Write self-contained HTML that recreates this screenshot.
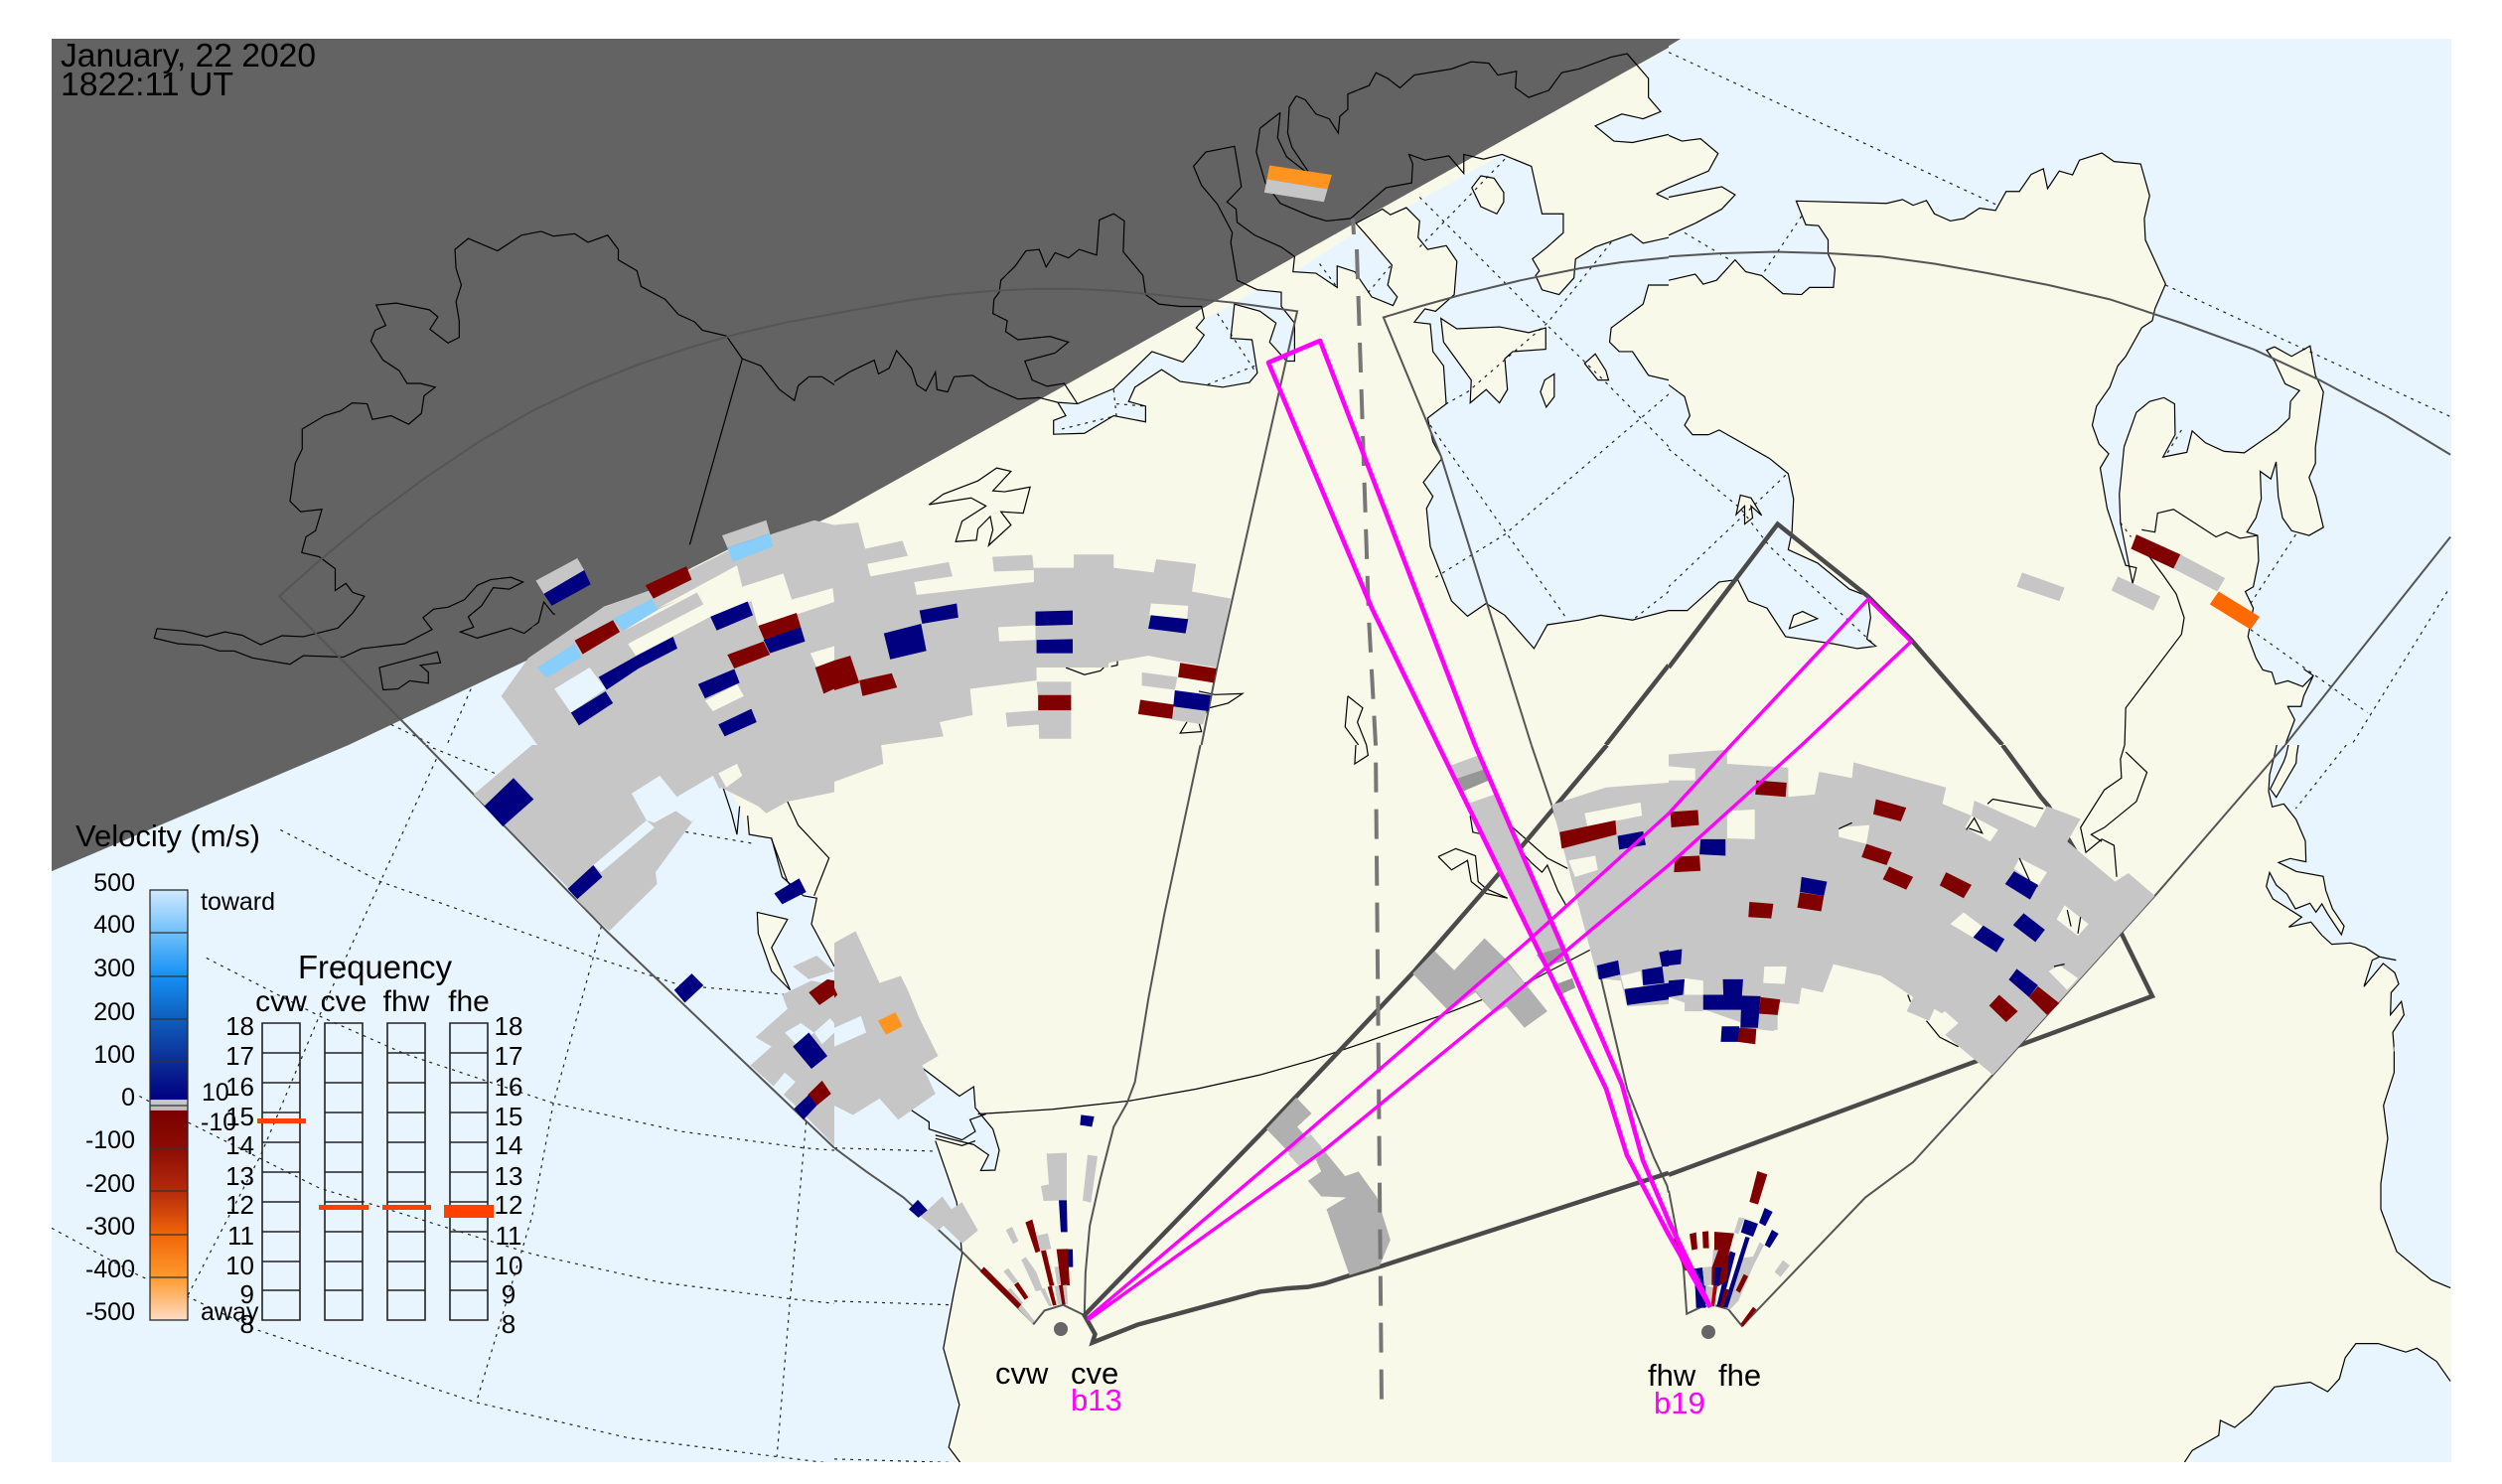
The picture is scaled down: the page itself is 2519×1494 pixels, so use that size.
<!DOCTYPE html>
<html><head><meta charset="utf-8"><style>
html,body{margin:0;padding:0;background:#fff}
svg{display:block}
svg *{vector-effect:non-scaling-stroke}
.l{fill:#f9f9ea}.o{fill:#e8f5ff}.N{fill:#636363}
.g{fill:#c6c6c6}.s{fill:#b0b0b0}.k{fill:#969696}.n{fill:#000080}.m{fill:#800000}.b{fill:#87cefa}.y{fill:#f9f9ea}.p{fill:#e8f5ff}
.c{fill:none;stroke:#000;stroke-width:1.2}
.d{fill:none;stroke:#222;stroke-width:1.2;stroke-dasharray:3 5}
.f{fill:none;stroke:#555;stroke-width:2}
.F{fill:none;stroke:#4a4a4a;stroke-width:4.5;stroke-linejoin:miter}
text{font-family:"Liberation Sans",sans-serif;fill:#000}
.t25{font-size:25px}.e{text-anchor:end}.q{text-anchor:middle}
.mg{fill:none;stroke:#f0f;stroke-width:3.4}
.mg2{fill:none;stroke:#f0f;stroke-width:4.6}
</style></head><body>
<svg width="2519" height="1494" viewBox="0 0 2519 1494" xmlns="http://www.w3.org/2000/svg">
<defs><linearGradient id="cb" x1="0" y1="0" x2="0" y2="1">
<stop offset="0" stop-color="#cfe9ff"/><stop offset=".1" stop-color="#6fc0fa"/><stop offset=".2" stop-color="#1590f5"/><stop offset=".3" stop-color="#0f5ebc"/><stop offset=".4" stop-color="#0c2c96"/><stop offset=".487" stop-color="#000080"/><stop offset=".488" stop-color="#ccc"/><stop offset=".512" stop-color="#bbb"/><stop offset=".513" stop-color="#7a0000"/><stop offset=".6" stop-color="#8c0c04"/><stop offset=".7" stop-color="#b52a0c"/><stop offset=".8" stop-color="#f06408"/><stop offset=".9" stop-color="#ff9a2c"/><stop offset="1" stop-color="#fddcc4"/>
</linearGradient></defs>

<!-- TILE 1 -->
<svg x="0" y="0" width="840" height="750" viewBox="0 0 1568 1568" preserveAspectRatio="none">
<rect class="o" width="1568" height="1568"/>
<polygon class="l" points="1040,1300 1150,1330 1180,1420 1300,1568 1568,1568 1568,900 1040,900"/>
<polygon class="N" points="0,0 1568,0 1568,1083 655,1568 0,1568"/>
<polyline class="d" points="885,1450 840,1568"/><polyline class="d" points="735,1525 815,1568"/>
<polyline class="c" points="295,1323 345,1328 388,1340 423,1330 455,1337 490,1357 530,1338 570,1340 635,1322 663,1290 685,1255 663,1247 650,1228 630,1243 630,1197 600,1172 567,1163 575,1130 593,1117 605,1072 565,1077 545,1055 555,975 568,945 568,903 610,875 640,865 662,848 690,850 700,883 735,875 768,893 792,870 797,833 818,815 790,807 765,807 750,780 720,758 697,718 705,695 725,685 707,642 745,638 807,652 823,667 808,693 842,722 863,710 863,675 857,635 867,600 857,565 855,525 880,502 935,528 980,495 1017,487 1040,497 1080,492 1105,510 1142,495 1162,525 1162,547 1197,570 1205,603 1250,630 1275,662 1305,677 1320,695 1365,707 1395,755 1430,770 1465,820 1493,843 1500,812 1520,793 1545,793 1568,810"/>
<polyline class="c" points="295,1323 290,1343 335,1355 380,1358 412,1370 440,1370 475,1385 545,1398 570,1380 645,1383 680,1365 760,1355 812,1325 795,1300 815,1282 842,1278 873,1262 897,1232 922,1220 960,1215 983,1225 957,1240 927,1237 905,1275 880,1298 890,1320 865,1330 897,1343 930,1332 960,1322 985,1333 1012,1310 1022,1267 1040,1292 1065,1302 1075,1320"/>
<polygon class="c" points="713,1405 822,1372 828,1395 790,1400 805,1415 805,1438 770,1433 748,1450 720,1452"/>
<polyline class="c" points="1395,755 1245,1350"/>
<polyline class="f" points="800,1568 525,1255 600,1180 700,1088 800,1005 900,930 1000,865 1100,812 1200,767 1300,730 1395,700 1480,678 1568,660"/>
<polygon class="g" points="942,1465 993,1385 1135,1277 1380,1150 1530,1095 1568,1105 1568,1568 1010,1568"/>
<polygon class="y" points="1237,1280 1385,1190 1395,1235 1472,1207 1488,1262 1565,1238 1568,1267 1425,1320 1412,1265 1335,1298 1195,1380 1180,1355 1322,1272 1315,1245"/>
<polygon class="y" points="1523,1375 1568,1360 1568,1400 1535,1405"/>
<polygon class="p" points="1042,1450 1108,1405 1138,1450 1073,1500"/>
<polygon class="y" points="1325,1475 1385,1440 1398,1465 1340,1497"/>
<polygon class="y" points="1130,1280 1225,1240 1385,1150 1400,1130 1357,1127 1200,1210"/>
<polygon class="N" points="1000,1320 1080,1270 1140,1225 1220,1190 1360,1110 1450,1080 1530,1040 1530,1095 1445,1120 1380,1150 1300,1195 1240,1235 1135,1277 1070,1325 993,1385"/>
<polygon class="g" points="1007,1222 1085,1175 1098,1200 1022,1250"/>
<polygon class="n" points="1022,1250 1098,1200 1110,1230 1037,1275"/>
<polygon class="g" points="1357,1127 1440,1095 1447,1123 1367,1153"/>
<polygon class="b" points="1367,1153 1447,1123 1453,1150 1377,1183"/>
<polygon class="m" points="1213,1232 1290,1192 1300,1220 1228,1260"/>
<polygon class="g" points="993,1385 1135,1277 1152,1303 1010,1405"/>
<polygon class="y" points="1237,1283 1310,1245 1315,1245 1322,1272 1195,1350 1172,1328"/>
<polygon class="g" points="1172,1328 1310,1247 1322,1272 1180,1355"/>
<polygon class="b" points="1010,1405 1080,1355 1093,1383 1027,1427"/>
<polygon class="m" points="1080,1348 1152,1305 1165,1330 1095,1377"/>
<polygon class="b" points="1152,1303 1225,1260 1237,1283 1170,1328"/>
<polygon class="n" points="1125,1425 1200,1378 1265,1340 1273,1365 1200,1407 1140,1452"/>
<polygon class="n" points="1073,1500 1138,1455 1152,1480 1088,1527"/>
<polygon class="n" points="1335,1298 1405,1266 1415,1295 1347,1327"/>
<polygon class="m" points="1425,1317 1497,1290 1505,1320 1437,1348"/>
<polygon class="n" points="1435,1347 1505,1320 1513,1350 1447,1375"/>
<polygon class="m" points="1367,1378 1435,1350 1447,1378 1380,1407"/>
<polygon class="n" points="1312,1440 1380,1408 1390,1437 1325,1470"/>
<polygon class="n" points="1350,1525 1412,1492 1422,1520 1362,1550"/>
<polygon class="m" points="1532,1405 1568,1390 1568,1450 1548,1460"/>
</svg>

<!-- TILE 2 -->
<svg x="840" y="0" width="840" height="750" viewBox="0 0 1568 1568" preserveAspectRatio="none">
<rect class="l" width="1568" height="1568"/>
<polygon class="o" points="415,845 457,850 525,818 597,740 655,762 695,700 680,680 750,640 795,610 840,615 840,645 865,680 865,760 850,760 818,720 830,680 800,655 752,640 745,712 785,715 795,785 780,805 730,815 650,803 615,778 565,815 553,845 585,855 585,888 525,875 470,912 412,914 412,885 435,875"/>
<polygon class="o" points="862,575 905,575 945,605 945,560 978,572 1010,625 1050,643 1058,625 1040,600 1048,558 985,485"/>
<polygon class="o" points="1075,437 1100,465 1097,500 1115,525 1150,517 1170,550 1165,620 1130,655 1110,650 1090,678 1120,682 1125,740 1145,770 1150,850 1115,880 1125,930 1142,965 1107,1015 1125,1045 1113,1070 1120,1150 1160,1265 1190,1297 1225,1270 1260,1295 1315,1365 1340,1315 1400,1305 1440,1295 1500,1305 1568,1285 1568,800 1530,790 1500,740 1475,740 1457,720 1460,690 1520,640 1530,600 1568,600 1568,500 1520,512 1498,493 1430,520 1393,545 1390,585 1362,620 1330,610 1318,580 1325,570 1312,545 1340,520 1370,490 1370,450 1330,450 1310,350 1255,325"/>
<polygon class="l" points="1140,670 1170,692 1250,688 1305,700 1337,690 1337,735 1275,740 1260,755 1265,820 1250,848 1225,820 1195,848 1197,800 1145,720"/>
<polygon class="l" points="1215,370 1240,375 1258,405 1258,425 1245,450 1215,435 1198,395"/>
<polygon class="l" points="1430,745 1450,780 1455,800 1435,800 1410,765"/>
<polygon class="l" points="1353,787 1353,835 1338,857 1327,825 1335,800"/>
<polygon class="o" points="1512,140 1530,165 1530,205 1553,235 1520,250 1480,240 1430,265 1465,297 1500,300 1568,283 1568,100"/>
<polygon class="o" points="1545,408 1568,395 1568,415"/>
<polygon class="N" points="0,0 1568,0 1568,100 0,1083"/>
<polyline class="d" points="912,555 945,605"/><polyline class="d" points="1045,560 1000,620"/><polyline class="d" points="790,770 700,810"/><polyline class="d" points="720,660 790,780"/><polyline class="d" points="525,820 530,875 420,905"/><polyline class="d" points="530,850 585,855"/>
<polyline class="d" points="1100,415 1340,685 1450,805 1568,940"/><polyline class="d" points="1260,335 1100,520"/><polyline class="d" points="1460,510 1340,680 1190,825 1150,850"/><polyline class="d" points="1568,830 1260,1125 1130,1215"/><polyline class="d" points="1120,895 1265,1125 1375,1300"/><polyline class="d" points="1568,1245 1500,1305"/>
<polyline class="c" points="0,803 30,782 75,758 83,787 103,775 117,738 145,775 155,810 172,823 190,783 193,820 213,825 225,793 260,790 290,813 345,840 385,837 420,847 435,875 412,885 412,914 470,912 525,875 585,888 585,855 553,845 565,815 615,778 650,803 730,815 780,805 795,785 785,715 745,712 752,640 800,655 830,680 818,720 850,760 865,760 865,680 840,645 840,615 795,610 757,590 745,510 748,490 720,430 690,390 675,350 698,320 752,308 765,393 738,425 755,440 757,468 790,495 840,520 865,540 862,572 905,575 945,605 945,560 978,572 1010,625 1050,643 1058,625 1040,600 1048,558 1000,495 980,470 1030,440 1045,452 1075,437 1100,465 1097,500 1115,525 1150,517 1170,550 1165,620 1130,655 1110,650 1090,678 1120,682 1125,740 1145,770 1150,850 1115,880 1125,930 1142,965 1107,1015 1125,1045 1113,1070 1120,1150 1160,1265 1190,1297 1225,1270 1260,1295 1315,1365 1340,1315 1400,1305 1440,1295 1500,1305 1568,1285"/>
<polyline class="c" points="420,847 457,850 525,818 597,740 655,762 680,730 695,705 680,690 695,670 690,645 650,645 610,640 585,620 580,580 543,530 545,465 525,450 498,463 493,537 460,525 440,543 415,532 398,562 385,525 360,528 340,560 313,590 310,615 300,630 298,660 325,675 322,698 345,715 405,708 440,720 415,743 358,760 372,800 400,813 432,807 457,850"/>
<polyline class="c" points="838,237 800,270 793,320 810,385 838,428 895,455 925,465 970,460 1037,395 1085,385 1087,345 1080,325 1110,337 1155,328 1183,365 1183,325 1220,335 1255,325 1310,350 1330,450 1370,450 1370,490 1340,520 1312,545 1325,570 1318,580 1330,610 1362,620 1390,585 1393,545 1430,520 1498,493 1520,512 1568,500"/>
<polyline class="c" points="838,237 833,290 850,330 890,365 905,365"/><polyline class="c" points="868,202 855,225 852,280 860,310 890,360"/>
<polyline class="c" points="868,202 885,210 905,240 930,250 947,280 950,245 965,230 965,198 1005,180 1018,153 1040,165 1063,185 1090,158 1160,145 1197,130 1230,133 1247,158 1282,150 1280,185 1305,205 1343,190 1367,153 1400,145 1460,120 1490,113 1530,165 1530,205 1553,235 1520,250 1480,240 1430,265 1465,297 1500,300 1568,283"/>
<polygon class="c" points="1140,670 1170,692 1250,688 1305,700 1337,690 1337,735 1275,740 1260,755 1265,820 1250,848 1225,820 1195,848 1197,800 1145,720"/>
<polygon class="c" points="1215,370 1240,375 1258,405 1258,425 1245,450 1215,435 1198,395"/>
<polygon class="c" points="1430,745 1450,780 1455,800 1435,800 1410,765"/>
<polygon class="c" points="1353,787 1353,835 1338,857 1327,825 1335,800"/>
<polyline class="c" points="1568,600 1530,600 1520,640 1460,690 1457,720 1475,740 1500,740 1530,790 1568,800"/>
<polyline class="c" points="1545,408 1568,395"/><polyline class="c" points="1545,408 1568,420"/>
<polygon class="c" points="305,985 332,992 298,1033 320,1035 368,1025 355,1080 313,1077 332,1105 290,1148 298,1115 293,1087 270,1113 267,1137 228,1140 240,1097 285,1065 257,1048 178,1062 205,1040 270,1012"/>
<polyline class="c" points="965,1465 993,1490 983,1520 1000,1568"/><polyline class="c" points="965,1465 960,1530 985,1568"/>
<polyline class="c" points="685,1455 715,1462 767,1460 740,1480 705,1490 685,1520 690,1540 650,1543 665,1515"/>
<polyline class="c" points="435,1405 470,1420 500,1412 515,1395"/><polyline class="c" points="532,1380 532,1400 520,1403"/><polyline class="c" points="595,1290 620,1268"/>
<polyline class="f" points="0,660 75,645 150,630 225,619 300,612 375,608 450,608 525,612 600,620 750,637 870,655 720,1400 690,1568"/>
<polyline class="f" points="1310,1568 1140,960 1032,668 1100,645 1180,620 1290,590 1400,565 1480,552 1568,542"/>
<polyline class="F" points="1450,1568 1568,1400"/>
<polygon class="g" points="0,1105 45,1100 58,1155 128,1138 138,1170 62,1187 68,1213 215,1183 222,1213 150,1225 155,1252 290,1235 375,1225 375,1195 450,1195 450,1167 525,1167 525,1195 600,1205 605,1177 680,1187 672,1245 745,1260 718,1405 646,1392 590,1380 515,1395 515,1405 380,1405 380,1432 255,1450 260,1505 198,1520 205,1550 90,1568 0,1568"/>
<polygon class="g" points="297,1172 372,1168 375,1200 300,1203"/>
<polygon class="y" points="308,1320 378,1316 378,1347 310,1350"/>
<polygon class="y" points="595,1270 665,1275 663,1303 592,1295"/>
<polygon class="g" points="578,1415 645,1425 640,1452 578,1443"/>
<polygon class="g" points="380,1435 445,1435 445,1465 383,1465"/>
<polygon class="g" points="383,1495 445,1495 445,1555 385,1555"/>
<polygon class="g" points="322,1500 385,1495 385,1525 325,1530"/>
<polygon class="g" points="640,1485 700,1495 693,1525 635,1515"/>
<polygon class="n" points="160,1285 230,1270 233,1300 165,1313"/>
<polygon class="n" points="93,1333 163,1313 173,1370 105,1388"/>
<polygon class="n" points="378,1287 448,1285 448,1315 378,1317"/>
<polygon class="n" points="380,1347 448,1345 448,1375 380,1375"/>
<polygon class="n" points="595,1295 665,1303 660,1333 590,1323"/>
<polygon class="m" points="650,1395 718,1407 713,1437 646,1425"/>
<polygon class="n" points="640,1453 707,1463 703,1497 637,1487"/>
<polygon class="m" points="575,1473 638,1483 635,1513 571,1503"/>
<polygon class="m" points="383,1463 445,1463 445,1495 383,1495"/>
<polygon class="m" points="0,1390 30,1380 47,1437 0,1453"/>
<polygon class="m" points="47,1432 108,1417 118,1447 53,1465"/>
<polygon fill="#ff9520" points="818,348 935,368 927,398 813,377"/>
<polygon class="g" points="813,377 927,398 920,425 808,405"/>
</svg>

<!-- TILE 3 -->
<svg x="1680" y="0" width="839" height="750" viewBox="0 0 1568 1568" preserveAspectRatio="none">
<rect class="o" width="1568" height="1568"/>
<polygon class="l" points="0,590 50,577 65,598 90,590 125,547 145,572 175,580 215,618 250,620 265,605 310,605 313,565 300,535 300,505 282,475 258,473 240,423 410,428 440,420 460,432 485,422 500,450 530,465 555,460 585,438 615,443 635,403 660,403 682,367 705,355 713,397 735,360 760,368 773,337 815,322 838,340 888,345 905,412 895,460 897,505 935,598 915,650 910,675 890,690 860,750 845,770 830,815 805,855 797,895 810,935 828,955 812,985 825,1070 860,1190 880,1195 873,1228 850,1100 848,1040 857,940 880,868 905,845 932,837 952,850 953,915 930,962 975,952 985,907 1010,932 1045,950 1083,953 1145,905 1168,880 1170,845 1187,822 1160,808 1140,760 1125,737 1140,730 1172,750 1207,728 1217,790 1232,825 1217,940 1217,975 1205,1005 1218,1045 1232,1110 1205,1127 1172,1117 1155,1090 1147,1045 1143,972 1133,1008 1113,992 1115,1050 1105,1090 1088,1120 1108,1127 1110,1180 1100,1235 1085,1245 1100,1280 1090,1340 1105,1385 1118,1410 1135,1415 1142,1440 1165,1433 1193,1445 1213,1422 1208,1420 1195,1465 1190,1487 1165,1487 1178,1515 1160,1568 0,1568"/>
<polygon class="o" points="0,810 30,835 40,875 30,895 45,915 75,915 95,905 190,965 225,997 235,1050 232,1120 225,1157 280,1185 340,1240 375,1255 380,1300 373,1345 390,1360 355,1365 310,1355 220,1340 185,1280 150,1265 130,1220 95,1225 35,1285 0,1285"/>
<polygon class="l" points="0,285 25,297 60,292 93,323 75,360 0,395"/>
<polygon class="l" points="0,415 100,393 125,410 100,440 50,470 0,495"/>
<polygon class="l" points="252,1287 280,1302 227,1323 235,1295"/>
<polygon class="l" points="135,1042 155,1048 175,1085 155,1065 158,1090 143,1103 143,1065 127,1083"/>
<polygon class="N" points="0,0 145,0 22,82 0,97"/>
<polyline class="d" points="0,110 615,430"/><polyline class="d" points="935,600 1471,877"/><polyline class="d" points="0,945 135,1070 190,1150 385,1355"/><polyline class="d" points="220,1000 0,1235"/><polyline class="d" points="250,455 175,580"/><polyline class="d" points="30,490 120,550"/><polyline class="d" points="1180,1125 1095,1270"/><polyline class="d" points="1095,1325 1315,1500"/><polyline class="d" points="1465,1245 1285,1568"/><polyline class="d" points="965,905 935,960"/><polyline class="d" points="850,1100 870,1130"/>
<polyline class="c" points="0,590 50,577 65,598 90,590 125,547 145,572 175,580 215,618 250,620 265,605 310,605 313,565 300,535 300,505 282,475 258,473 240,423 410,428 440,420 460,432 485,422 500,450 530,465 555,460 585,438 615,443 635,403 660,403 682,367 705,355 713,397 735,360 760,368 773,337 815,322 838,340 888,345 905,412 895,460 897,505 935,598 915,650 910,675 890,690 860,750 845,770 830,815 805,855 797,895 810,935 828,955 812,985 825,1070 860,1190 880,1195 873,1228 850,1100 848,1040 857,940 880,868 905,845 932,837 952,850 953,915 930,962 975,952 985,907 1010,932 1045,950 1083,953 1145,905 1168,880 1170,845 1187,822 1160,808 1140,760 1125,737 1140,730 1172,750 1207,728 1217,790 1232,825 1217,940 1217,975 1205,1005 1218,1045 1232,1110 1205,1127 1172,1117 1155,1090 1147,1045 1143,972 1133,1008 1113,992 1115,1050 1105,1090 1088,1120 1108,1127 1110,1180 1100,1235 1085,1245 1100,1280 1090,1340 1105,1385 1118,1410 1135,1415 1142,1440 1165,1433 1193,1445 1213,1422 1195,1408 1213,1422 1195,1465 1190,1487 1165,1487 1178,1515 1160,1568"/>
<polyline class="c" points="0,810 30,835 40,875 30,895 45,915 75,915 95,905 190,965 225,997 235,1050 232,1120 225,1157 280,1185 340,1240 375,1255 380,1300 373,1345 390,1360 355,1365 310,1355 220,1340 185,1280 150,1265 130,1220 95,1225 35,1285 0,1285"/>
<polyline class="c" points="0,285 25,297 60,292 93,323 75,360 0,395"/><polyline class="c" points="0,415 100,393 125,410 100,440 50,470 0,495"/>
<polygon class="c" points="252,1287 280,1302 227,1323 235,1295"/>
<polygon class="c" points="135,1042 155,1048 175,1085 155,1065 158,1090 143,1103 143,1065 127,1083"/>
<polyline class="c" points="890,1115 915,1120 920,1080 950,1072 1030,1130 1050,1120 1075,1133 1108,1127"/>
<polyline class="c" points="900,1165 930,1210 955,1250 970,1300 965,1335 860,1490 858,1568"/>
<polyline class="f" points="0,540 100,533 200,530 300,533 400,540 500,555 600,575 715,600 830,630 965,680 1100,735 1225,800 1350,875 1471,957"/>
<polyline class="f" points="1471,1130 1160,1568"/>
<polyline class="F" points="0,1405 205,1103 375,1255 455,1345 628,1568"/>
<polygon class="m" points="880,1125 963,1167 950,1197 870,1155"/>
<polygon class="g" points="963,1167 1047,1217 1032,1245 950,1197"/>
<polygon fill="#ff6a00" points="1035,1245 1112,1298 1095,1325 1018,1272"/>
<polygon class="g" points="665,1205 745,1237 735,1265 655,1235"/>
<polygon class="g" points="845,1213 925,1255 912,1285 833,1243"/>
</svg>

<!-- TILE 4 -->
<svg x="0" y="750" width="840" height="744" viewBox="0 0 1568 1568" preserveAspectRatio="none">
<rect class="o" width="1568" height="1568"/>
<polygon class="l" points="1370,0 1350,60 1390,130 1405,190 1450,200 1470,280 1530,320 1525,380 1568,470 1568,0"/>
<polygon class="l" points="1423,355 1480,370 1450,430 1485,520 1450,480 1425,400"/>
<polygon class="N" points="0,0 655,0 97,268 0,315"/>
<polyline class="d" points="527,180 715,290 1115,450 1280,510 1480,530"/>
<polyline class="d" points="388,452 600,575 760,655 1040,760 1280,820 1510,855 1568,860"/>
<polyline class="d" points="262,745 352,800 600,940 800,1010 1000,1080 1240,1140 1485,1175 1568,1185"/>
<polyline class="d" points="97,1025 260,1125 352,1170 480,1240 895,1395 1180,1470 1460,1510 1568,1525"/>
<polyline class="d" points="820,30 715,290 600,575 490,870 352,1170"/>
<polyline class="d" points="1130,385 1115,450 1040,760 1000,1000 895,1395"/>
<polyline class="d" points="1515,800 1485,1175 1460,1510"/>
<polyline class="d" points="800,0 930,60"/><polyline class="d" points="1215,170 1420,210"/>
<polyline class="c" points="1350,60 1375,145 1385,190 1390,130"/>
<polyline class="c" points="1405,150 1408,190 1450,198 1470,280 1510,320 1535,325 1525,380 1568,470"/>
<polyline class="c" points="1480,120 1500,170 1558,240 1530,320"/>
<polyline class="c" points="1450,200 1480,290 1500,320"/>
<polygon class="c" points="1423,355 1480,370 1450,430 1485,520 1450,480 1425,400"/>
<polyline class="f" points="800,0 1140,395 1568,855"/>
<polygon class="g" points="890,105 1000,0 1568,0 1568,100 1480,120 1440,145 1425,130 1355,90 1300,165 1232,270 1235,295 1145,395 1085,330 1065,300"/>
<polygon class="p" points="1187,103 1240,65 1272,110 1340,65 1355,100 1300,163 1270,140 1230,165 1215,160"/>
<polygon class="p" points="1115,255 1215,160 1230,175 1130,270"/>
<polygon class="y" points="1350,60 1385,40 1395,65 1365,90"/>
<polygon class="g" points="1490,470 1535,447 1568,480 1520,497"/>
<polygon class="g" points="1470,530 1525,500 1568,510 1568,850 1490,760 1410,680 1450,640 1420,620 1480,560"/>
<polygon class="p" points="1475,610 1505,590 1530,610 1500,640"/>
<polygon class="p" points="1530,610 1560,580 1568,590 1568,610 1545,635"/>
<polygon class="p" points="1453,725 1475,695 1495,715 1470,745"/>
<polygon class="n" points="910,130 965,70 1003,115 945,173"/>
<polygon class="n" points="1067,305 1115,255 1132,280 1085,327"/>
<polygon class="n" points="1455,315 1502,283 1515,312 1470,338"/>
<polygon class="n" points="1267,520 1300,485 1322,510 1287,547"/>
<polygon class="n" points="1490,640 1520,610 1555,660 1525,687"/>
<polygon class="m" points="1520,525 1555,497 1568,500 1568,530 1540,552"/>
<polygon class="m" points="1518,742 1545,712 1562,740 1535,765"/>
<polygon class="n" points="1492,772 1520,742 1535,765 1510,795"/>
</svg>

<!-- TILE 5 -->
<svg x="840" y="750" width="840" height="744" viewBox="0 0 1568 1568" preserveAspectRatio="none">
<rect class="l" width="1568" height="1568"/>
<polygon class="o" points="0,580 50,575 62,610 170,685 235,745 262,725 265,770 298,815 310,860 302,902 275,903 290,870 262,848 190,828 190,840 230,970 240,1080 225,1160 205,1280 235,1400 215,1490 237,1568 0,1568"/>
<polyline class="d" points="0,855 190,862"/><polyline class="d" points="0,1180 220,1188"/><polyline class="d" points="0,1515 235,1523"/>
<polyline class="c" points="165,685 235,745 262,725 265,770 298,815 310,860 302,902 275,903 290,870 262,848 190,828"/>
<polyline class="c" points="145,775 178,800 178,815 240,838 265,820 255,795 285,783"/>
<polyline class="c" points="190,835 240,850 265,840"/>
<polyline class="c" points="190,840 230,970 240,1080 225,1160 205,1280 235,1400 215,1490 237,1523"/>
<polyline class="c" points="50,575 62,610 75,630"/>
<polyline class="c" points="980,0 978,40 1003,22 1000,0"/>
<polyline class="c" points="1135,237 1168,220 1205,235 1210,290 1225,305 1265,325"/>
<polyline class="c" points="1135,237 1160,265 1190,245 1197,290 1225,315 1265,325"/>
<polyline class="c" points="1195,150 1200,185 1240,195 1265,165 1340,240 1378,262"/>
<polyline class="c" points="1290,225 1310,250 1330,270 1340,255 1360,310 1375,340"/>
<polyline class="c" points="270,783 410,773 555,755 680,730 800,700 900,668 1000,630 1075,600 1150,570 1230,535 1310,500 1420,435"/>
<polyline class="f" points="688,0 620,360 590,540 565,715 550,760 525,810 500,920 480,1020 472,1120 470,1210"/>
<polyline class="f" points="0,855 60,905 130,960 240,1075 375,1228 395,1200 430,1188 470,1210"/>
<polyline class="f" points="1310,0 1400,300 1490,730 1540,875 1565,935 1568,950"/>
<polyline class="F" points="1452,0 1240,285 1090,480 940,660 810,815 470,1210 490,1250 485,1268 570,1230 700,1190 800,1160 850,1153 890,1150 920,1143 970,1125 1030,1105 1568,908"/>
<polygon class="g" points="0,0 88,0 92,40 0,78"/>
<polygon class="g" points="0,420 40,395 85,505 125,490 138,520 160,580 195,660 165,680 190,740 120,795 85,750 35,785 0,765"/>
<polygon class="p" points="0,600 50,575 60,610 0,640"/>
<polygon fill="#ff9520" points="82,585 115,567 128,597 97,615"/>
<polygon class="m" points="0,515 6,530 0,537"/>
<polygon class="g" points="162,1000 203,958 220,985 240,970 270,1030 240,1058 205,1020 195,1030"/>
<polygon class="n" points="140,985 157,965 175,987 158,1003"/>
<polygon class="s" points="812,815 868,748 897,782 870,810 893,840 855,865"/>
<polygon class="g" points="853,868 895,825 918,857 875,895"/>
<polygon class="s" points="890,925 915,905 905,880 920,860 960,915 985,905 1020,960 1045,1050 1025,1105 968,1125 925,985 962,960 915,958"/>
<polygon class="s" points="1087,485 1128,437 1165,478 1222,410 1262,455 1340,565 1297,600 1263,555 1240,570 1205,525 1155,565"/>
<polygon class="g" points="1205,520 1262,460 1300,510 1240,570"/>
<polygon class="g" points="1190,125 1240,105 1375,430 1325,450"/>
<polygon class="k" points="1320,445 1365,430 1372,458 1335,470"/>
<polygon class="g" points="1155,45 1215,20 1225,50 1168,72"/>
<polygon class="k" points="1168,72 1225,50 1230,75 1178,100"/>
<polygon class="k" points="1350,510 1387,495 1393,515 1360,532"/>
<polygon class="g" points="1348,127 1450,90 1568,80 1568,550 1490,555 1478,500 1435,495"/>
<polygon class="y" points="1410,145 1515,122 1518,150 1465,162 1415,172"/>
<polygon class="y" points="1380,245 1430,235 1435,265 1392,280"/>
<polygon class="m" points="1363,185 1468,160 1470,190 1367,220"/>
<polygon class="n" points="1472,193 1520,183 1525,212 1475,222"/>
<polygon class="n" points="1433,468 1473,457 1477,487 1437,498"/>
<polygon class="y" points="1478,490 1515,480 1520,515 1485,520"/>
<polygon class="n" points="1518,477 1556,470 1560,505 1520,510"/>
<polygon class="n" points="1485,518 1568,505 1568,540 1490,552"/>
<polygon class="n" points="1550,440 1568,435 1568,470 1555,470"/>
</svg>

<!-- TILE 6 -->
<svg x="1680" y="750" width="839" height="744" viewBox="0 0 1568 1568" preserveAspectRatio="none">
<rect class="l" width="1568" height="1568"/>
<g transform="matrix(0.623 0 0 0.7024 1046.6 21.07)">
<polygon class="o" points="157,-31 150,0 135,60 132,110 143,157 178,148 215,195 243,260 245,323 197,313 162,325 215,352 297,367 305,410 325,465 360,517 352,543 310,480 293,450 275,475 257,448 213,465 187,420 155,393 135,355 125,397 145,435 232,490 193,520 260,505 293,545 323,572 380,568 425,582 467,610 445,620 420,700 478,630 513,658 525,692 502,718 500,785 533,745 541,785 507,838 512,900 900,900 900,-31"/>
<polygon class="l" points="192,-31 185,0 178,20 137,103 155,128 215,25 217,0 222,-31"/>
<polyline class="c" points="192,-31 185,0 178,20 137,103 155,128 215,25 217,0 222,-31"/>
<polyline class="c" points="157,-31 150,0 135,60 132,110 143,157 178,148 215,195 243,260 245,323 197,313 162,325 215,352 297,367 305,410 325,465 360,517 352,543 310,480 293,450 275,475 257,448 213,465 187,420 155,393 135,355 125,397 145,435 232,490 193,520 260,505 293,545 323,572 380,568 425,582 467,610 517,620 467,610 445,620 420,700 478,630 513,658 525,692 502,718 500,785 533,745 541,785 507,838 512,900"/>
</g>
<polygon class="o" points="1365,640 1365,695 1345,765 1353,835 1340,930 1340,985 1370,1075 1435,1135 1568,1200 1568,640"/>
<polygon class="o" points="970,1568 985,1497 1035,1465 1038,1433 1065,1448 1095,1420 1140,1362 1207,1352 1240,1372 1262,1345 1273,1300 1293,1270 1335,1270 1387,1288 1408,1280 1445,1308 1471,1350 1568,1400 1568,1568"/>
<polyline class="d" points="1275,0 1180,135"/>
<polyline class="c" points="1365,650 1365,695 1345,765 1353,835 1340,930 1340,985 1370,1075 1435,1135 1471,1152"/>
<polyline class="c" points="970,1523 985,1497 1035,1465 1038,1433 1065,1448 1095,1420 1140,1362 1207,1352 1240,1372 1262,1345 1273,1300 1293,1270 1335,1270 1387,1288 1408,1280 1445,1308 1471,1350"/>
<polyline class="c" points="858,0 850,30 852,70 820,95 775,175 785,228 815,200 838,213 843,280"/>
<polyline class="c" points="860,15 900,58 880,120 820,175 795,190 815,205"/>
<polyline class="f" points="1160,0 915,320 610,700 460,885 370,960 138,1233 112,1197 87,1189 62,1192 34,1207 28,1110 0,945"/>
<polyline class="F" points="628,0 700,110 715,130 760,215 852,400 910,533 0,912"/>
<polygon class="g" points="0,20 110,10 110,40 225,48 225,110 275,105 283,57 345,70 348,37 522,90 515,125 570,150 575,118 690,175 712,130 775,157 750,205 840,290 865,272 915,320 610,700 520,615 545,590 500,560 490,585 448,565 460,535 400,490 310,465 290,525 250,515 245,550 205,545 205,605 165,600 0,535"/>
<polygon class="y" points="0,45 50,50 50,75 0,75"/>
<polygon class="y" points="110,140 162,137 162,200 110,198"/>
<polygon class="y" points="320,175 378,170 372,210 320,195"/>
<polygon class="y" points="660,240 712,270 695,300 650,262"/>
<polygon class="y" points="530,380 555,355 590,385 575,410"/>
<polygon class="y" points="570,150 620,180 605,205 558,175"/>
<polygon class="y" points="730,370 745,340 790,380 770,405"/>
<polygon class="y" points="715,480 735,467 770,495 750,520"/>
<polygon class="y" points="180,470 222,470 218,507 178,505"/>
<polygon class="y" points="30,495 65,500 65,530 30,530"/>
<polygon class="y" points="490,585 520,565 545,590 520,615"/>
<polyline class="c" points="560,180 575,155 590,187 565,177"/><polyline class="c" points="600,125 610,115 705,135"/><polyline class="c" points="660,240 680,290 695,300"/><polyline class="c" points="750,350 757,385"/><polyline class="c" points="770,400 775,365"/><polyline class="c" points="320,178 345,165"/><polyline class="c" points="725,470 745,465"/><polyline class="c" points="450,530 455,545"/><polyline class="c" points="485,585 510,620 545,640"/>
<polygon class="g" points="30,530 65,530 65,565 30,565"/>
<polygon class="g" points="168,570 205,573 198,607 165,603"/>
<polygon class="m" points="165,75 222,80 220,110 163,105"/>
<polygon class="m" points="390,115 447,133 437,162 385,147"/>
<polygon class="m" points="3,142 55,138 57,170 5,175"/>
<polygon class="n" points="60,200 107,200 107,235 58,232"/>
<polygon class="m" points="12,237 58,235 60,267 10,270"/>
<polygon class="m" points="372,210 420,228 410,255 363,238"/>
<polygon class="m" points="415,258 460,280 447,307 403,285"/>
<polygon class="m" points="522,270 570,297 555,325 510,298"/>
<polygon class="n" points="650,268 695,297 680,328 633,295"/>
<polygon class="n" points="250,280 298,290 292,320 247,312"/>
<polygon class="m" points="247,313 292,320 287,353 242,345"/>
<polygon class="m" points="152,333 197,337 193,368 150,365"/>
<polygon class="n" points="668,357 708,392 690,418 648,382"/>
<polygon class="n" points="592,383 632,412 617,440 573,408"/>
<polygon class="n" points="0,437 25,433 23,465 0,468"/>
<polygon class="n" points="0,500 30,497 27,530 0,535"/>
<polygon class="n" points="102,497 140,497 138,530 103,530"/>
<polygon class="n" points="65,530 138,530 138,562 65,562"/>
<polygon class="n" points="137,532 173,533 168,600 135,600"/>
<polygon class="m" points="173,535 210,540 205,573 170,570"/>
<polygon class="n" points="100,597 133,597 133,630 98,630"/>
<polygon class="m" points="133,600 165,602 163,635 130,630"/>
<polygon class="n" points="655,475 695,510 678,535 640,498"/>
<polygon class="m" points="695,512 735,548 712,573 678,535"/>
<polygon class="m" points="622,530 657,565 635,588 603,553"/>
</svg>

<!-- cvw/cve near-range fan -->
<g transform="translate(960 1120) scale(.33333)">
<polygon class="n" points="385,7 425,12 418,43 382,38"/>
<polygon class="g" points="281,124 342,122 342,265 272,267 264,222 288,217"/>
<polygon class="g" points="405,128 435,132 415,272 390,266"/>
<polygon class="n" points="318,265 342,265 344,361 324,361"/>
<polygon class="g" points="158,355 177,345 196,388 180,397"/>
<polygon class="m" points="217,332 238,323 262,418 248,424"/>
<polygon class="g" points="250,372 285,365 295,412 262,418"/>
<polygon class="m" points="264,418 279,416 304,522 290,525"/>
<polygon class="g" points="305,466 323,465 329,520 313,520"/>
<polygon class="m" points="311,413 345,412 351,522 325,522"/>
<polygon class="n" points="345,413 360,413 361,467 347,467"/>
<polygon class="g" points="205,445 218,436 250,482 270,535 248,540 235,510"/>
<polygon class="g" points="151,480 165,470 195,510 182,518"/>
<polygon class="m" points="183,520 195,512 226,558 215,566"/>
<polygon class="g" points="160,540 172,530 210,575 200,585"/>
<polygon class="m" points="80,480 92,466 205,580 195,592"/>
<polygon class="g" points="195,592 205,580 245,630 238,638"/>
<polygon class="g" points="262,535 275,530 298,585 288,585"/>
<polygon class="m" points="284,527 297,524 311,582 300,583"/>
<polygon class="g" points="305,525 318,522 328,580 315,580"/>
<polygon class="m" points="318,522 330,520 338,580 328,580"/>
<polygon class="g" points="330,522 342,520 345,580 338,580"/>
</g>

<!-- fhw/fhe near-range fan -->
<g transform="translate(1640 1150) scale(.33333)">
<polygon class="g" points="110,245 125,242 145,290 130,292"/>
<polygon class="m" points="125,290 148,290 188,382 170,388"/>
<polygon class="m" points="388,87 418,97 390,188 364,180"/>
<polygon class="n" points="410,198 434,210 412,253 393,243"/>
<polygon class="n" points="432,264 452,276 425,319 410,310"/>
<polygon class="g" points="332,226 350,230 330,278 318,272"/>
<polygon class="n" points="350,232 390,246 375,285 338,272"/>
<polygon class="g" points="395,302 408,310 375,375 330,480 305,505 290,500 340,350 375,345"/>
<polygon class="g" points="465,356 486,372 458,407 440,392"/>
<polygon class="m" points="347,398 360,405 335,455 323,447"/>
<polygon class="m" points="375,497 385,505 345,557 338,548"/>
<polygon class="g" points="255,322 272,322 270,375 250,380"/>
<polygon class="n" points="352,285 365,288 298,500 285,498"/>
<polygon class="n" points="305,328 322,335 280,497 265,495"/>
<polygon class="m" points="258,270 318,275 303,330 295,420 270,435 248,430 250,380 270,325 258,325"/>
<polygon class="m" points="183,277 203,272 207,322 190,326"/>
<polygon class="m" points="222,270 240,268 242,320 224,320"/>
<polygon class="n" points="195,382 222,378 228,440 200,440"/>
<polygon class="g" points="222,378 250,375 250,430 228,435"/>
<polygon class="n" points="200,435 232,433 232,500 203,500"/>
<polygon class="g" points="232,433 262,440 262,497 235,500"/>
<polygon class="n" points="260,378 280,378 272,433 258,433"/>
<polygon fill="#b00000" points="255,432 267,435 258,495 248,495"/>
<polygon class="m" points="290,442 302,445 285,500 275,497"/>
</g>

<!-- Margins -->
<rect x="0" y="0" width="2519" height="39" fill="#fff"/>
<rect x="0" y="0" width="52" height="1494" fill="#fff"/>
<rect x="2468" y="0" width="51" height="1494" fill="#fff"/>
<rect x="0" y="1472" width="2519" height="22" fill="#fff"/>

<!-- dashed meridian -->
<polyline points="1362,220 1363,236" fill="none" stroke="#777" stroke-width="4"/>
<polyline points="1366,251 1378,620 1385,750 1391,1414" fill="none" stroke="#777" stroke-width="4" stroke-dasharray="30 17"/>

<!-- magenta beams -->
<polyline class="mg" points="1095,1327 1300.7,1153 1536.4,949 1680,819 1743,750 1881,603 1924,646 1814,750 1680,871 1504,1018 1333,1158 1095,1329"/>
<polyline class="mg2" stroke-linejoin="round" points="1722,1316 1680,1243 1638,1163 1617,1096 1448,750 1381,612 1277,365 1329,343 1485,750 1633,1092 1654,1168 1680,1229 1722,1316"/>

<!-- Radar dots -->
<circle cx="1068" cy="1338" r="7" fill="#666"/>
<circle cx="1720" cy="1341" r="7" fill="#666"/>

<!-- Title -->
<text x="61" y="67" font-size="33" textLength="257" lengthAdjust="spacingAndGlyphs">January, 22 2020</text>
<text x="61" y="96" font-size="33" textLength="174" lengthAdjust="spacingAndGlyphs">1822:11 UT</text>

<!-- Colorbar -->
<text x="76" y="852" font-size="31" textLength="186" lengthAdjust="spacingAndGlyphs">Velocity (m/s)</text>
<rect x="151" y="896" width="38" height="433" fill="url(#cb)" stroke="#222" stroke-width="1.2"/>
<g stroke="#333" stroke-width="1.2"><line x1="151" x2="189" y1="939" y2="939"/><line x1="151" x2="189" y1="983" y2="983"/><line x1="151" x2="189" y1="1026" y2="1026"/><line x1="151" x2="189" y1="1069" y2="1069"/><line x1="151" x2="189" y1="1113" y2="1113"/><line x1="151" x2="189" y1="1156" y2="1156"/><line x1="151" x2="189" y1="1199" y2="1199"/><line x1="151" x2="189" y1="1243" y2="1243"/><line x1="151" x2="189" y1="1286" y2="1286"/></g>
<g class="t25">
<text class="e" x="136" y="897">500</text><text class="e" x="136" y="939">400</text><text class="e" x="136" y="983">300</text><text class="e" x="136" y="1027">200</text><text class="e" x="136" y="1070">100</text><text class="e" x="136" y="1113">0</text><text class="e" x="136" y="1156">-100</text><text class="e" x="136" y="1200">-200</text><text class="e" x="136" y="1243">-300</text><text class="e" x="136" y="1286">-400</text><text class="e" x="136" y="1329">-500</text>
<text x="202" y="916">toward</text><text x="202" y="1329">away</text>
<text x="203" y="1108">10</text><text x="202" y="1138">-10</text>
</g>

<!-- Frequency -->
<text x="300" y="985" font-size="33" textLength="155" lengthAdjust="spacingAndGlyphs">Frequency</text>
<g font-size="30">
<text class="q" x="283" y="1018">cvw</text><text class="q" x="346" y="1018">cve</text><text class="q" x="409" y="1018">fhw</text><text class="q" x="472" y="1018">fhe</text>
</g>
<g fill="none" stroke="#222" stroke-width="1.6">
<rect x="264" y="1030" width="38" height="299"/><rect x="327" y="1030" width="38" height="299"/><rect x="390" y="1030" width="38" height="299"/><rect x="453" y="1030" width="38" height="299"/>
<path d="M264 1060H302M264 1090H302M264 1120H302M264 1150H302M264 1180H302M264 1210H302M264 1240H302M264 1270H302M264 1299H302"/>
<path d="M327 1060H365M327 1090H365M327 1120H365M327 1150H365M327 1180H365M327 1210H365M327 1240H365M327 1270H365M327 1299H365"/>
<path d="M390 1060H428M390 1090H428M390 1120H428M390 1150H428M390 1180H428M390 1210H428M390 1240H428M390 1270H428M390 1299H428"/>
<path d="M453 1060H491M453 1090H491M453 1120H491M453 1150H491M453 1180H491M453 1210H491M453 1240H491M453 1270H491M453 1299H491"/>
</g>
<rect x="259" y="1126" width="49" height="5" fill="#ff4000"/>
<rect x="321" y="1213" width="50" height="5" fill="#ff4000"/>
<rect x="385" y="1213" width="49" height="5" fill="#ff4000"/>
<rect x="447" y="1213" width="50" height="10" fill="#ff4000"/><rect x="447" y="1222" width="50" height="4" fill="#ff4000"/>
<g font-size="26">
<text class="e" x="256" y="1042">18</text><text class="e" x="256" y="1072">17</text><text class="e" x="256" y="1103">16</text><text class="e" x="256" y="1133">15</text><text class="e" x="256" y="1162">14</text><text class="e" x="256" y="1193">13</text><text class="e" x="256" y="1222">12</text><text class="e" x="256" y="1253">11</text><text class="e" x="256" y="1283">10</text><text class="e" x="256" y="1312">9</text><text class="e" x="256" y="1342">8</text>
<text class="q" x="512" y="1042">18</text><text class="q" x="512" y="1072">17</text><text class="q" x="512" y="1103">16</text><text class="q" x="512" y="1133">15</text><text class="q" x="512" y="1162">14</text><text class="q" x="512" y="1193">13</text><text class="q" x="512" y="1222">12</text><text class="q" x="512" y="1253">11</text><text class="q" x="512" y="1283">10</text><text class="q" x="512" y="1312">9</text><text class="q" x="512" y="1342">8</text>
</g>

<!-- Radar labels -->
<text x="1002" y="1393" font-size="31">cvw</text><text x="1078" y="1393" font-size="31">cve</text>
<text x="1078" y="1420" font-size="31" style="fill:#f0f">b13</text>
<text x="1659" y="1395" font-size="31">fhw</text><text x="1730" y="1395" font-size="31">fhe</text>
<text x="1665" y="1423" font-size="31" style="fill:#f0f">b19</text>
</svg>
</body></html>
